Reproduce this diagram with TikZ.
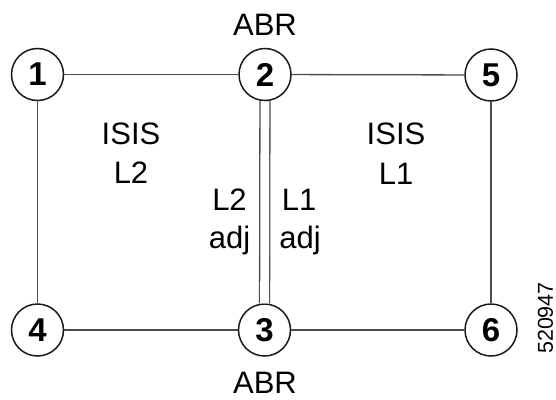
\documentclass[tikz,border=0pt]{standalone}
\usepackage{fontspec}
\setmainfont{Liberation Sans}
\begin{document}
\begin{tikzpicture}[x=1pt,y=-1pt,
  rtr/.style={circle,draw=black!90,line width=1.5pt,minimum size=52pt,inner sep=0pt,
    font=\fontsize{33}{38}\selectfont\bfseries},
  lnk/.style={draw=black!70,line width=1.3pt},
  lbl/.style={anchor=base,inner sep=0pt,font=\fontsize{31}{36}\selectfont}]
\useasboundingbox (0,0) rectangle (556,399);
\node[rtr] (n1) at (37.5,74.5) {1};
\node[rtr] (n2) at (265,74.5) {2};
\node[rtr] (n5) at (491,75) {5};
\node[rtr] (n4) at (37.5,330) {4};
\node[rtr] (n3) at (264.5,330) {3};
\node[rtr] (n6) at (491,330) {6};
\draw[lnk] (n1) -- (n2);
\draw[lnk] (n2) -- (n5);
\draw[lnk] (n1) -- (n4);
\draw[lnk] (n5) -- (n6);
\draw[lnk] (n4) -- (n3);
\draw[lnk] (n3) -- (n6);
\draw[lnk,double=white,double distance=8.7pt] (n2) -- (n3);
\node[lbl] (abrt) at (265,35) {ABR};
\node[lbl] (abrb) at (265,393) {ABR};
\node[lbl] (isisa) at (131,144) {ISIS};
\node[lbl] (lvla) at (131,183) {L2};
\node[lbl] (isisb) at (396,144) {ISIS};
\node[lbl] (lvlb) at (396,184) {L1};
\node[lbl] (adja1) at (229.5,210) {L2};
\node[lbl] (adja2) at (229.5,248) {adj};
\node[lbl] (adjb1) at (299,210) {L1};
\node[lbl] (adjb2) at (300,248) {adj};
\node[rotate=90,inner sep=0pt,font=\fontsize{21.5}{26}\selectfont] (fig) at (545.5,318) {520947};
\end{tikzpicture}
\end{document}
